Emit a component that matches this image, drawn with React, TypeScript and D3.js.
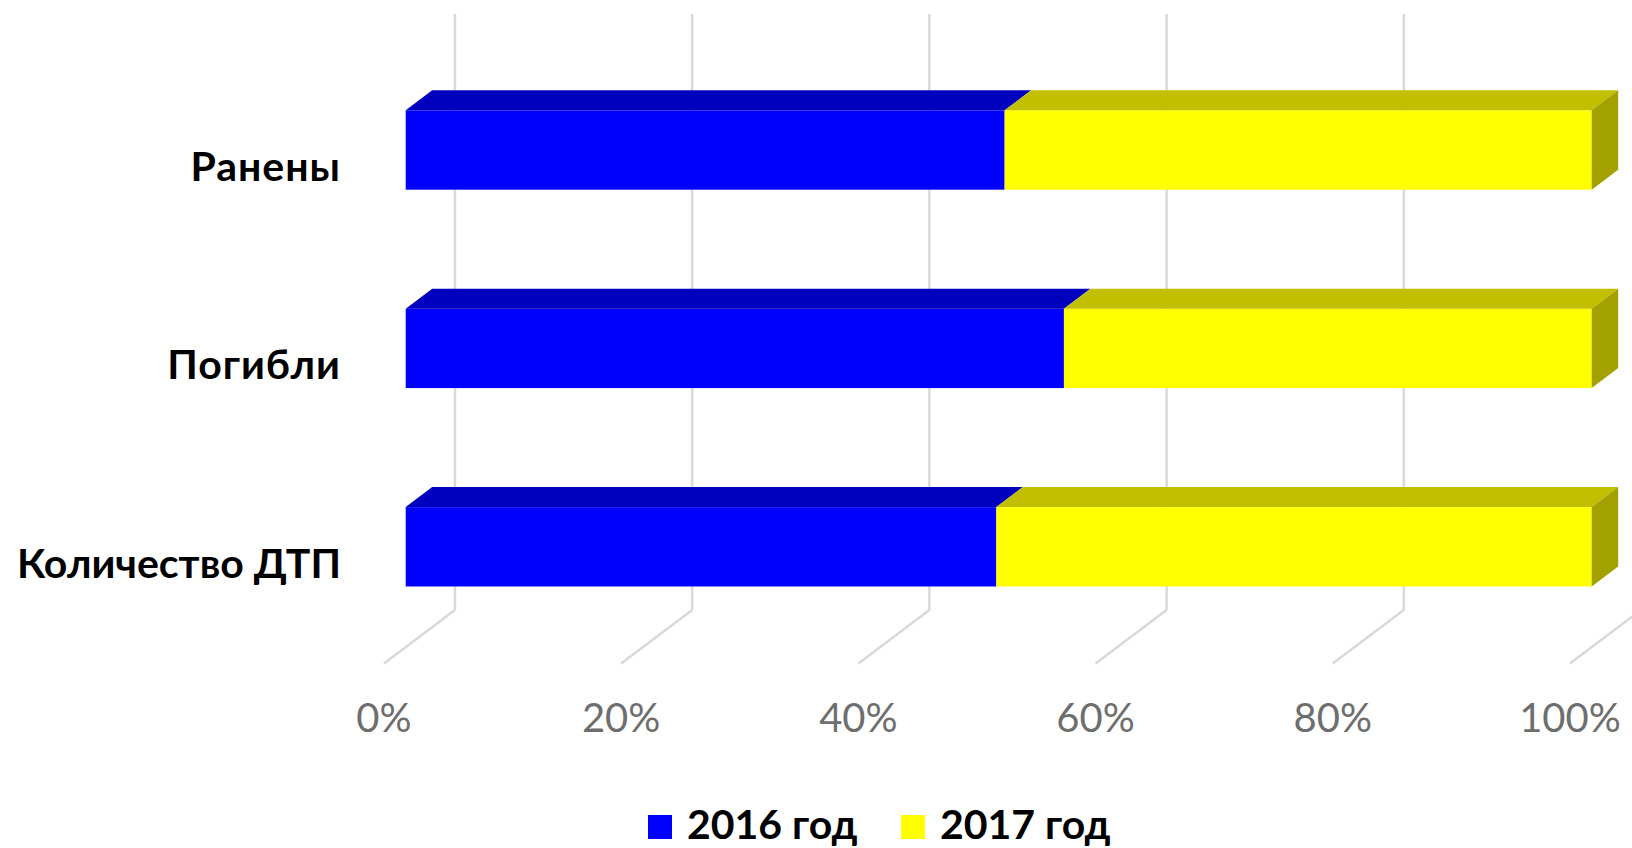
import React, { useEffect } from "react";
import * as d3 from "d3";

const categories = ["Ранены", "Погибли", "Количество ДТП"];
const series = ["2016 год", "2017 год"];
const values2016 = [0.505, 0.555, 0.498];
const values2017 = [0.495, 0.445, 0.502];
const ticks = [0, 0.2, 0.4, 0.6, 0.8, 1];

const W = 1632;
const H = 848;
const FRONT = ["#0000FF", "#FFFF00"];
const TOP = ["#0000BE", "#C2BF00"];
const SIDE = ["#00008F", "#A3A100"];

// depth unit vector (one bar depth)
const DX = 26.5;
const DY = -20;
const WALL = 1.86; // back wall depth (in bar depths)
const FLOOR_FRONT = -0.82;

export default function App() {
  useEffect(() => {
    document.body.style.margin = "0";
    document.body.style.overflow = "hidden";
  }, []);

  const x = d3.scaleLinear().domain([0, 1]).range([405.7, 1591.7]);
  const y = d3
    .scaleBand<string>()
    .domain(categories)
    .range([50.8, 646])
    .paddingInner(0.6)
    .paddingOuter(0.3);
  const bh = y.bandwidth();

  const wallTop = 14;
  const backBottomY = 610;
  const ffY = backBottomY + (WALL - FLOOR_FRONT) * -DY;

  const stacked = categories.map((c, i) => {
    const v = [values2016[i], values2017[i]];
    let acc = 0;
    return v.map((val, s) => {
      const seg = { c, s, a: acc, b: acc + val };
      acc += val;
      return seg;
    });
  });

  const font = "Lato, 'Open Sans', sans-serif";

  return (
    <svg
      width={W}
      height={H}
      style={{ position: "absolute", left: 0, top: 0, background: "#fff" }}
      xmlns="http://www.w3.org/2000/svg"
    >
      <rect x={0} y={0} width={W} height={H} fill="#ffffff" />
      {/* gridlines: back wall + floor */}
      <g stroke="#D9D9D9" strokeWidth={2.5} fill="none">
        {ticks.map((t) => {
          const bx = x(t) + WALL * DX;
          const fx = x(t) + FLOOR_FRONT * DX;
          return (
            <g key={t}>
              <line x1={bx} y1={wallTop} x2={bx} y2={backBottomY} />
              <line x1={bx} y1={backBottomY} x2={fx} y2={ffY} />
            </g>
          );
        })}
      </g>
      {/* bars */}
      {stacked.map((segs) =>
        segs.map((sg) => {
          const y0 = y(sg.c)!;
          const x0 = x(sg.a);
          const x1 = x(sg.b);
          const topPts = [
            [x0, y0],
            [x1, y0],
            [x1 + DX, y0 + DY],
            [x0 + DX, y0 + DY],
          ];
          const sidePts = [
            [x1, y0],
            [x1 + DX, y0 + DY],
            [x1 + DX, y0 + bh + DY],
            [x1, y0 + bh],
          ];
          const last = sg.s === segs.length - 1;
          return (
            <g key={sg.c + sg.s}>
              <rect x={x0} y={y0} width={x1 - x0} height={bh} fill={FRONT[sg.s]} />
              <polygon points={topPts.map((p) => p.join(",")).join(" ")} fill={TOP[sg.s]} />
              {last && (
                <polygon points={sidePts.map((p) => p.join(",")).join(" ")} fill={SIDE[sg.s]} />
              )}
            </g>
          );
        })
      )}
      {/* category labels */}
      {categories.map((c) => (
        <text
          key={c}
          x={341}
          y={y(c)! + bh / 2 + FLOOR_FRONT * DY + 14.6}
          textAnchor="end"
          fontFamily={font}
          fontWeight={700}
          fontSize={41}
          letterSpacing={c.length < 10 ? 1 : 0}
          fill="#000"
        >
          {c}
        </text>
      ))}
      {/* tick labels */}
      {ticks.map((t) => (
        <text
          key={t}
          x={x(t) + FLOOR_FRONT * DX}
          y={731.5}
          textAnchor="middle"
          fontFamily={font}
          fontSize={40}
          fill="#6E6E6E"
        >
          {d3.format(".0%")(t)}
        </text>
      ))}
      {/* legend */}
      {series.map((s, i) => {
        const lx = [648, 901][i];
        return (
          <g key={s}>
            <rect x={lx} y={815} width={24} height={24} fill={FRONT[i]} />
            <text
              x={lx + 39}
              y={839}
              fontFamily={font}
              fontWeight={700}
              fontSize={41}
              fill="#000"
            >
              {s}
            </text>
          </g>
        );
      })}
    </svg>
  );
}
